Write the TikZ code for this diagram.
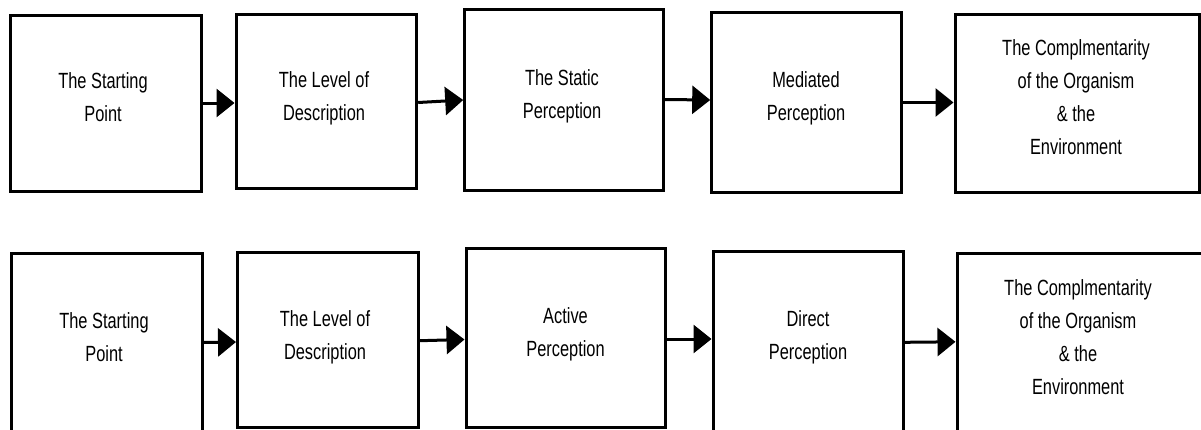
\documentclass[tikz,border=0pt]{standalone}
\usepackage{fontspec}
\setmainfont[FakeStretch=0.745]{Liberation Sans}
\usetikzlibrary{arrows.meta,fit}
\begin{document}
\begin{tikzpicture}[x=1pt,y=-1pt,
  stage/.style={draw=black, line width=3pt, inner sep=0pt},
  stagetext/.style={anchor=north, yshift=23.1pt, inner sep=0pt, align=center,
    font=\fontsize{22}{33}\selectfont},
  flow/.style={line width=3pt, -{Triangle[length=18pt,width=28pt]}}]
\useasboundingbox (0,0) rectangle (1201,429);
\clip (0,0) rectangle (1201,429);
\fill[white] (0,0) rectangle (1201,429);

% upper chain of stages
\node[stage, fit={(10,15) (201,191.7)}] (t1) {};
\node[stage, fit={(236,14) (416.7,188.7)}] (t2) {};
\node[stage, fit={(464.7,9) (663,190)}] (t3) {};
\node[stage, fit={(711.7,12.3) (901,192)}] (t4) {};
\node[stage, fit={(955,14) (1199,192)}] (t5) {};

% lower chain of stages (running past the lower and right edges)
\node[stage, fit={(11,253) (202,445)}] (b1) {};
\node[stage, fit={(237.5,252.7) (418.5,427)}] (b2) {};
\node[stage, fit={(466,248) (665,427.5)}] (b3) {};
\node[stage, fit={(713,251) (903,445)}] (b4) {};
\node[stage, fit={(957,253) (1215,445)}] (b5) {};

% stage texts, placed by the baseline of their first line
\node[stagetext] (t1x) at (103,88.3) {\strut The Starting\\Point};
\node[stagetext] (t2x) at (324,87.3) {\strut The Level of\\Description};
\node[stagetext] (t3x) at (562,85) {\strut The Static\\Perception};
\node[stagetext] (t4x) at (806,87) {\strut Mediated\\Perception};
\node[stagetext] (t5x) at (1076,55) {\strut The Complmentarity\\of the Organism\\\& the\\Environment};

\node[stagetext] (b1x) at (104,328) {\strut The Starting\\Point};
\node[stagetext] (b2x) at (325,326) {\strut The Level of\\Description};
\node[stagetext] (b3x) at (565.5,323) {\strut Active\\Perception};
\node[stagetext] (b4x) at (808,326) {\strut Direct\\Perception};
\node[stagetext] (b5x) at (1078,295) {\strut The Complmentarity\\of the Organism\\\& the\\Environment};

% connectors
\draw[flow] (t1.east |- 0,103) -- (t2.west |- 0,103);
\draw[flow] (t2.east |- 0,102.5) -- (t3.west |- 0,100);
\draw[flow] (t3.east |- 0,99.5) -- (t4.west |- 0,100);
\draw[flow] (t4.east |- 0,102.5) -- (t5.west |- 0,102.5);

\draw[flow] (b1.east |- 0,342.5) -- (b2.west |- 0,342);
\draw[flow] (b2.east |- 0,340.7) -- (b3.west |- 0,339.5);
\draw[flow] (b3.east |- 0,339) -- (b4.west |- 0,339);
\draw[flow] (b4.east |- 0,342.3) -- (b5.west |- 0,341.8);
\end{tikzpicture}
\end{document}
